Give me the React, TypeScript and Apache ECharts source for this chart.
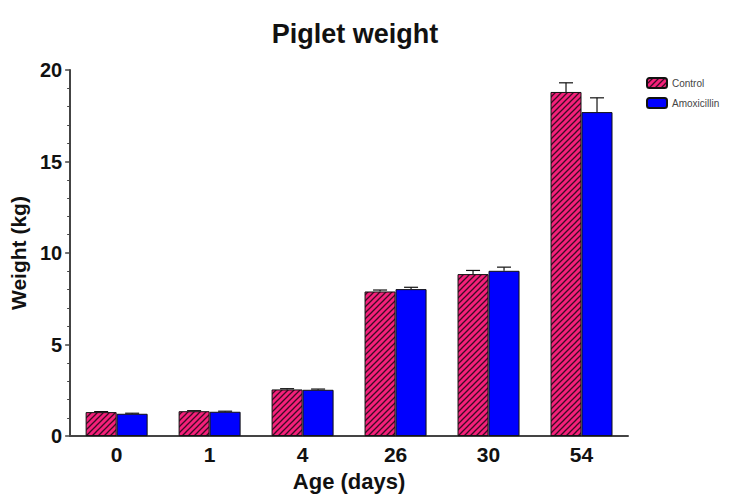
import React, { useEffect, useRef } from "react";
import * as echarts from "echarts";

// Piglet body weight by age, two treatment groups (mean with upward SEM whisker)
const ages = ["0", "1", "4", "26", "30", "54"];
const controlMeans = [1.31, 1.36, 2.55, 7.9, 8.85, 18.8];
const controlErr = [0.03, 0.03, 0.04, 0.08, 0.2, 0.5];
const amoxMeans = [1.22, 1.33, 2.53, 8.03, 9.03, 17.7];
const amoxErr = [0.03, 0.03, 0.04, 0.1, 0.2, 0.78];
const yTicks = [0, 5, 10, 15, 20];

const FONT = "Liberation Sans, Arial, sans-serif";
const BAR_W = 31;

function makeHatch(): HTMLCanvasElement {
  const s = 6;
  const c = document.createElement("canvas");
  c.width = s;
  c.height = s;
  const ctx = c.getContext("2d")!;
  ctx.fillStyle = "#f5207a";
  ctx.fillRect(0, 0, s, s);
  ctx.strokeStyle = "#3a0c24";
  ctx.lineWidth = 1.3;
  ctx.beginPath();
  ctx.moveTo(-1, s + 1);
  ctx.lineTo(s + 1, -1);
  ctx.moveTo(-1, 1);
  ctx.lineTo(1, -1);
  ctx.moveTo(s - 1, s + 1);
  ctx.lineTo(s + 1, s - 1);
  ctx.stroke();
  return c;
}

function errorSeries(name: string, means: number[], errs: number[], offset: number) {
  return {
    type: "custom",
    name: name + " SEM",
    z: 5,
    silent: true,
    data: means.map((m, i) => [i, m, m + errs[i]]),
    renderItem: (params: any, api: any) => {
      const idx = api.value(0);
      const base = api.coord([idx, api.value(1)]);
      const top = api.coord([idx, api.value(2)]);
      const x = base[0] + offset;
      const cap = 7;
      const st = { stroke: "#111", lineWidth: 1.2 };
      return {
        type: "group",
        children: [
          { type: "line", shape: { x1: x, y1: base[1], x2: x, y2: top[1] }, style: st },
          { type: "line", shape: { x1: x - cap, y1: top[1], x2: x + cap, y2: top[1] }, style: st },
        ],
      };
    },
  };
}

export default function App() {
  const ref = useRef<HTMLDivElement>(null);

  useEffect(() => {
    if (!ref.current) return;
    const chart = echarts.init(ref.current, undefined, { renderer: "svg" });
    const hatch = { image: makeHatch(), repeat: "repeat" };

    chart.setOption({
      animation: false,
      backgroundColor: "#ffffff",
      title: {
        text: "Piglet weight",
        left: 350,
        top: 15,
        textAlign: "center",
        textStyle: { fontFamily: FONT, fontSize: 27, fontWeight: "bold", color: "#111" },
      },
      legend: {
        orient: "vertical",
        left: 641,
        top: 72,
        itemWidth: 20,
        itemHeight: 10,
        itemGap: 8,
        data: ["Control", "Amoxicillin"],
        textStyle: { fontFamily: FONT, fontSize: 10, color: "#444" },
      },
      grid: { left: 70, width: 558, top: 70, height: 372, containLabel: false },
      xAxis: {
        type: "category",
        data: ages,
        name: "Age (days)",
        nameLocation: "middle",
        nameGap: 33,
        nameTextStyle: { fontFamily: FONT, fontSize: 22, fontWeight: "bold", color: "#111" },
        axisLine: { lineStyle: { color: "#444", width: 2 } },
        axisTick: { show: false },
        axisLabel: { fontFamily: FONT, fontSize: 21, fontWeight: "bold", color: "#111", margin: 8 },
      },
      yAxis: {
        type: "value",
        min: yTicks[0],
        max: yTicks[yTicks.length - 1],
        interval: 5,
        name: "Weight (kg)",
        nameLocation: "middle",
        nameGap: 38,
        nameTextStyle: { fontFamily: FONT, fontSize: 21, fontWeight: "bold", color: "#111" },
        axisLine: { show: true, lineStyle: { color: "#444", width: 2 } },
        axisTick: { show: true, length: 5, lineStyle: { color: "#444", width: 1.5 } },
        minorTick: { show: true, splitNumber: 5, length: 3, lineStyle: { color: "#444", width: 1 } },
        splitLine: { show: false },
        axisLabel: { fontFamily: FONT, fontSize: 20, fontWeight: "bold", color: "#111", margin: 8 },
      },
      series: [
        {
          type: "bar",
          name: "Control",
          data: controlMeans,
          barWidth: BAR_W,
          barGap: "0%",
          itemStyle: { color: hatch, borderColor: "#111", borderWidth: 1 },
        },
        {
          type: "bar",
          name: "Amoxicillin",
          data: amoxMeans,
          barWidth: BAR_W,
          barGap: "0%",
          itemStyle: { color: "#0000ff", borderColor: "#111", borderWidth: 1 },
        },
        errorSeries("Control", controlMeans, controlErr, -BAR_W / 2),
        errorSeries("Amoxicillin", amoxMeans, amoxErr, BAR_W / 2),
      ],
    });

    return () => chart.dispose();
  }, []);

  return (
    <div
      ref={ref}
      style={{ position: "fixed", left: 0, top: 0, width: 742, height: 497 }}
    />
  );
}
